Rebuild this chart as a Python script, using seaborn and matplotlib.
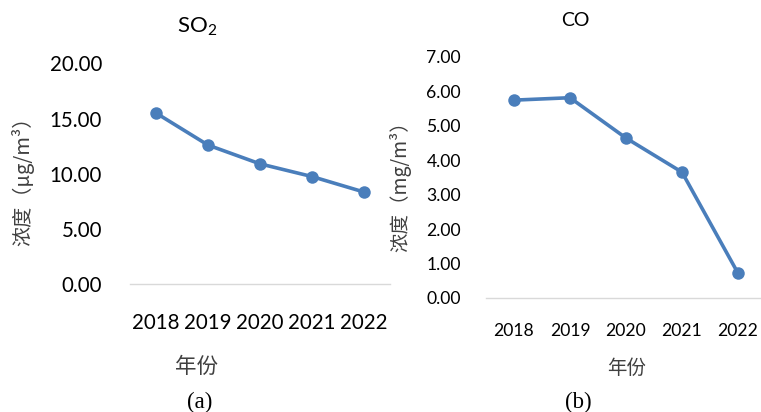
import matplotlib
matplotlib.use("Agg")
import matplotlib.pyplot as plt
import seaborn as sns
import pandas as pd

# Annual mean concentrations
years = ["2018", "2019", "2020", "2021", "2022"]
so2_values = [15.5, 12.6, 10.9, 9.75, 8.35]   # μg/m³
co_values = [5.74, 5.81, 4.64, 3.65, 0.72]    # mg/m³

so2_ticks = [0, 5, 10, 15, 20]
co_ticks = [0, 1, 2, 3, 4, 5, 6, 7]

sns.set_theme(style="white")
plt.rcParams["font.family"] = ["Lato", "Noto Sans CJK SC", "DejaVu Sans"]
plt.rcParams["mathtext.fontset"] = "custom"
plt.rcParams["mathtext.rm"] = "Lato"
plt.rcParams["mathtext.it"] = "Lato"

LINE = "#4A7EBB"
CJK = ["Noto Sans CJK SC", "DejaVu Sans"]

fig = plt.figure(figsize=(7.61, 4.12), dpi=100)
ax1 = fig.add_axes([130 / 761, 1 - 284.3 / 412, 260 / 761, 221 / 412])
ax2 = fig.add_axes([486 / 761, 1 - 298 / 412, 280 / 761, 241.3 / 412])


def draw(ax, values, ticks, tick_size, ypad, xpad):
    df = pd.DataFrame({"year": years, "value": values})
    sns.lineplot(data=df, x="year", y="value", ax=ax, color=LINE, lw=2.6,
                 marker="o", markersize=9, markeredgewidth=0, sort=False)
    ax.set_xlim(-0.5, len(years) - 0.5)
    ax.set_ylim(ticks[0], ticks[-1])
    ax.set_yticks(ticks)
    ax.set_yticklabels([f"{t:.2f}" for t in ticks])
    for s in ["top", "right", "left"]:
        ax.spines[s].set_visible(False)
    ax.spines["bottom"].set_color("#D9D9D9")
    ax.spines["bottom"].set_linewidth(1.0)
    ax.tick_params(axis="both", length=0, colors="black", labelsize=tick_size)
    ax.tick_params(axis="y", pad=ypad)
    ax.tick_params(axis="x", pad=xpad)
    ax.set_xlabel("")
    ax.set_ylabel("")
    ax.patch.set_alpha(0)


draw(ax1, so2_values, so2_ticks, 14.8, 20, 21)
draw(ax2, co_values, co_ticks, 12.6, 18, 18)

# Titles
fig.text(197 / 761, 1 - 27 / 412, "SO$_2$", ha="center", va="center",
         fontsize=16, color="black")
fig.text(575 / 761, 1 - 20 / 412, "CO", ha="center", va="center",
         fontsize=14, color="black")

# Axis titles
fig.text(197 / 761, 1 - 367 / 412, "年份", ha="center", va="center",
         fontsize=15.5, color="#404040", family=CJK)
fig.text(627 / 761, 1 - 368 / 412, "年份", ha="center", va="center",
         fontsize=14, color="#404040", family=CJK)
fig.text(23 / 761, 1 - 176 / 412, "浓度（μg/m³）", ha="center", va="center",
         rotation=90, fontsize=14.5, color="#404040", family=CJK)
fig.text(400 / 761, 1 - 182 / 412, "浓度（mg/m³）", ha="center", va="center",
         rotation=90, fontsize=14, color="#404040", family=CJK)

# Panel captions
fig.text(200 / 761, 1 - 402 / 412, "(a)", ha="center", va="center",
         fontsize=16.5, family="Liberation Serif", color="black")
fig.text(578 / 761, 1 - 402 / 412, "(b)", ha="center", va="center",
         fontsize=16.5, family="Liberation Serif", color="black")

fig.savefig("out.png", dpi=100)
